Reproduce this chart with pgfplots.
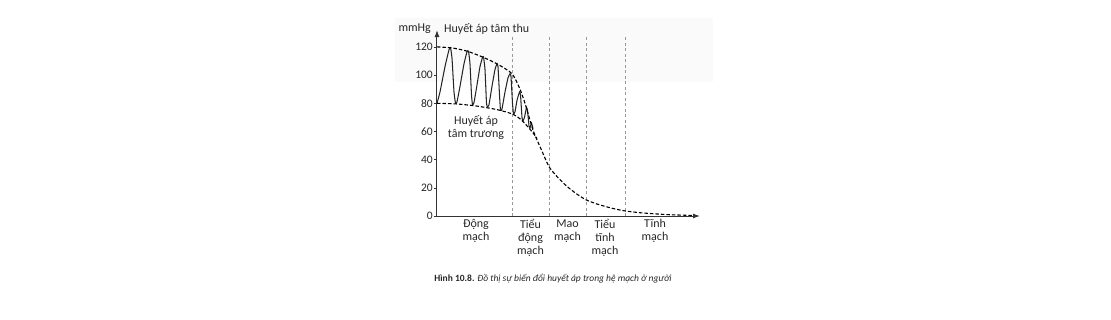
\documentclass[border=0pt]{standalone}
\usepackage{pgfplots}
\pgfplotsset{compat=1.18}
\usetikzlibrary{arrows.meta}
\usepackage{fontspec}
\setmainfont{Carlito}
\begin{document}
\begin{tikzpicture}[x=1pt,y=1pt]
\path[use as bounding box] (-437,-103) rectangle (674,216);
% faint watermark band
\fill[gray!4] (-42,134) rectangle (276,198);
\begin{axis}[
  scale only axis, width=263pt, height=186pt,
  xmin=0, xmax=263, ymin=0, ymax=132,
  axis lines=left,
  axis line style={line width=1pt, black!80},
  x axis line style={-{Latex[length=7pt,width=5pt]}},
  y axis line style={-{Latex[length=7pt,width=5pt]}},
  xtick=\empty,
  ytick={0,20,40,60,80,100,120},
  tick align=outside, major tick length=3pt,
  tick style={black!80, line width=0.6pt},
  yticklabel style={font=\fontsize{11.5}{12}\selectfont, text=black!85, inner sep=1pt},
  /pgf/number format/assume math mode=true,
  clip=false,
]
% region separators
\addplot[gray!80, dash pattern=on 3pt off 2.5pt, line width=0.6pt] coordinates {(75,0)(75,128)};
\addplot[gray!80, dash pattern=on 3pt off 2.5pt, line width=0.6pt] coordinates {(112,0)(112,128)};
\addplot[gray!80, dash pattern=on 3pt off 2.5pt, line width=0.6pt] coordinates {(149,0)(149,128)};
\addplot[gray!80, dash pattern=on 3pt off 2.5pt, line width=0.6pt] coordinates {(188,0)(188,128)};
% oscillating pressure
\addplot[black!85, line width=1.05pt, smooth, tension=0.25] coordinates {
(0,80)(3,88)(8,106)(12,118)(13.5,119.5)(15,112)(17,88)(18.5,80)(20,81)
(23,92)(27,108)(30,116.5)(31.5,117)(33,108)(34.5,86)(35.5,79)(37,80.5)
(40,93)(43,106)(45.5,112.5)(46.5,113)(48,104)(49.5,80)(50.5,77.5)(52,79)
(55,92)(58,104)(60,108)(61,106)(62.5,86)(63.5,75)(65,76)
(68,88)(71,98)(73,101)(74,99)(75.5,80)(76.5,72.5)(78,74)
(80,82)(82.5,88)(83.5,86)(85,70)(86,67.5)(87.5,70)
(89.5,77)(90.5,75)(92,64)(93,62.5)(94.5,66)(96,62)
};
% systolic envelope and decline
\addplot[black, line width=1.1pt, dash pattern=on 3.5pt off 2pt, smooth, tension=0.4] coordinates {
(0,120)(15,119.3)(30,117)(45,113)(60,108)(75,101)(83,90)(88,80)(93,68)(96,61)(100,54)(105,46)(112,35)(120,28)(130,21)(140,15.5)(149,11.5)(160,8.5)(175,5.5)(188,3.6)(205,2.2)(230,1)(255,0.4)
};
% diastolic envelope
\addplot[black, line width=1.1pt, dash pattern=on 3.5pt off 2pt, smooth, tension=0.4] coordinates {
(0,80)(20,79.5)(40,78)(60,75.5)(75,72.5)(83,69)(90,64)(96,59)(100,55)
};
% texts
\node[anchor=east, font=\fontsize{12}{13}\selectfont, text=black!85, inner sep=1pt] at (axis cs:-5,133) {mmHg};
\node[anchor=west, font=\fontsize{12}{13}\selectfont, text=black!85, inner sep=1pt] at (axis cs:6,133) {Huyết áp tâm thu};
\node[align=center, font=\fontsize{12}{13}\selectfont, text=black!85] at (axis cs:39,62.5) {Huyết áp\\tâm trương};
\node[anchor=north, align=center, font=\fontsize{12}{13}\selectfont, text=black!85, inner sep=1pt] at (axis cs:39,-1.5) {Động\\mạch};
\node[anchor=north, align=center, font=\fontsize{12}{13}\selectfont, text=black!85, inner sep=1pt] at (axis cs:93.5,-1.5) {Tiểu\\động\\mạch};
\node[anchor=north, align=center, font=\fontsize{12}{13}\selectfont, text=black!85, inner sep=1pt] at (axis cs:130.5,-1.5) {Mao\\mạch};
\node[anchor=north, align=center, font=\fontsize{12}{13}\selectfont, text=black!85, inner sep=1pt] at (axis cs:168,-1.5) {Tiểu\\tĩnh\\mạch};
\node[anchor=north, align=center, font=\fontsize{12}{13}\selectfont, text=black!85, inner sep=1pt] at (axis cs:218,-1.5) {Tĩnh\\mạch};
\node[font=\fontsize{9.5}{11}\selectfont, text=black!85] at (axis cs:116,-44.7) {\textbf{Hình 10.8.} \textit{Đồ thị sự biến đổi huyết áp trong hệ mạch ở người}};
\end{axis}
\end{tikzpicture}
\end{document}
